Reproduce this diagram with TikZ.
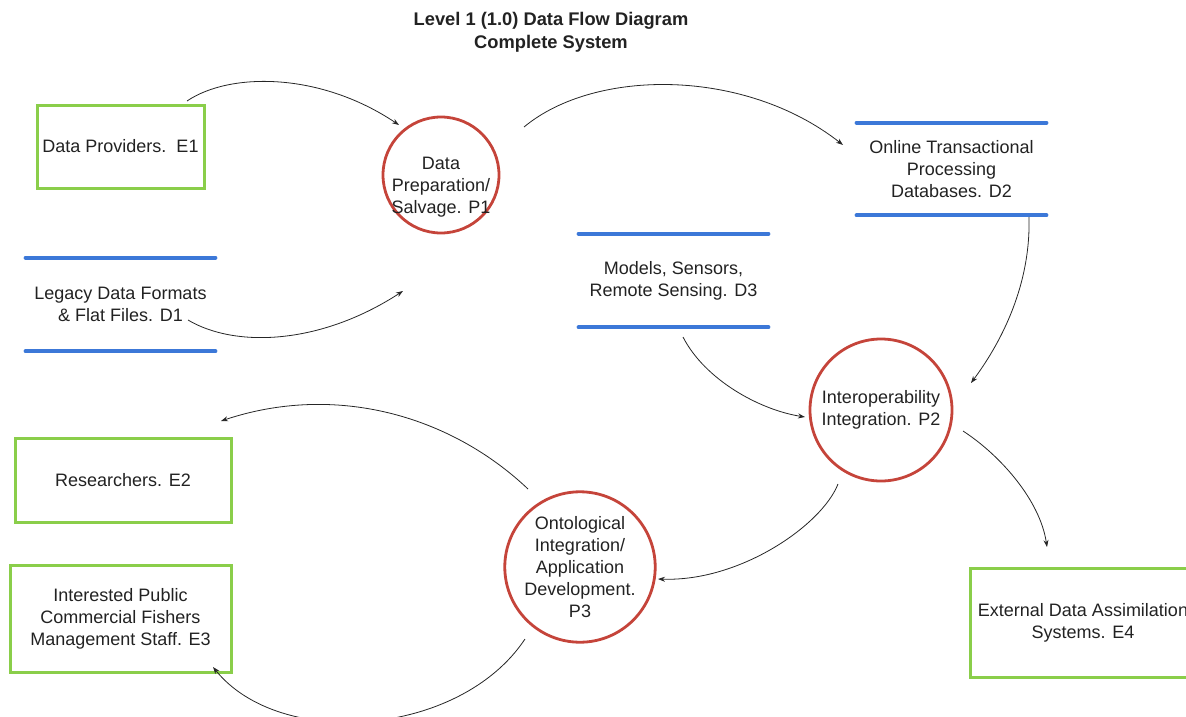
\documentclass[tikz,border=0pt]{standalone}
\usepackage{fontspec}
\setmainfont{Liberation Sans}
\usetikzlibrary{arrows.meta}
\definecolor{procred}{HTML}{C5443A}
\definecolor{extgreen}{HTML}{8ACE4A}
\definecolor{storeblue}{HTML}{3C78D8}
\definecolor{txt}{HTML}{222222}
\tikzset{
  lbl/.style={text=txt, font=\fontsize{18}{22}\selectfont, align=center},
  ext/.style={lbl, draw=extgreen, line width=3pt, rectangle, inner sep=0pt},
  proc/.style={lbl, draw=procred, line width=2.8pt, circle, inner sep=0pt},
  store/.style={lbl, inner sep=0pt},
  storeline/.style={draw=storeblue, line width=4.5pt, line cap=round},
  flow/.style={draw=black!85, line width=0.8pt, -{Stealth[length=7pt,width=5pt]}}
}
\begin{document}
\begin{tikzpicture}[x=1pt,y=-1pt]
\useasboundingbox (0,0) rectangle (1186,717);

% title
\node[text=txt, font=\bfseries\fontsize{18.3}{23}\selectfont, align=center] (title) at (551,32.5)
  {Level 1 (1.0) Data Flow Diagram\\Complete System};

% external entities
\node[ext, minimum width=167, minimum height=83] (e1) at (120.5,146.5) {Data Providers.~~E1};
\node[ext, minimum width=216, minimum height=84] (e2) at (123,480) {Researchers. E2};
\node[ext, minimum width=221, minimum height=107] (e3) at (120.5,618.5) {Interested Public\\Commercial Fishers\\Management Staff. E3};
\node[ext, minimum width=226, minimum height=109] (e4) at (1083,622.5) {External Data Assimilation\\Systems. E4};

% processes
\node[proc, minimum size=116,
  label={[lbl, yshift=-12pt]center:Data\\Preparation/\\Salvage. P1}] (p1) at (441,175) {};
\node[proc, minimum size=142] (p2) at (881,410) {Interoperability\\Integration. P2};
\node[proc, minimum size=142] (p3) at (580,567) {Ontological\\Integration/\\Application\\Development.\\P3};

% data stores
\node[store, minimum width=189, minimum height=93] (d1) at (120.5,304.5) {Legacy Data Formats\\\& Flat Files. D1};
\node[store, minimum width=189, minimum height=92] (d2) at (951.5,169) {Online Transactional\\Processing\\Databases. D2};
\node[store, minimum width=189, minimum height=93] (d3) at (673.5,280.5) {Models, Sensors,\\Remote Sensing. D3};
\foreach \d in {d1,d2,d3}{
  \draw[storeline] (\d.north west) -- (\d.north east);
  \draw[storeline] (\d.south west) -- (\d.south east);
}

% connector end points
\coordinate (e1o) at (187,101);   \coordinate (p1i1) at (399,125);
\coordinate (d1o) at (188,320);   \coordinate (p1i2) at (403,291);
\coordinate (p1o) at (524,127);   \coordinate (d2i) at (843,145);
\coordinate (d2o) at (1029,217);  \coordinate (p2i1) at (971,383);
\coordinate (d3o) at (683,337);   \coordinate (p2i2) at (805,417);
\coordinate (p2o1) at (963,431);  \coordinate (e4i) at (1047,547);
\coordinate (p2o2) at (838,484);  \coordinate (p3i) at (658,579);
\coordinate (p3o1) at (528,489);  \coordinate (e2i) at (221,421);
\coordinate (p3o2) at (525,639);  \coordinate (e3i) at (213,667);

% flows
\draw[flow] (e1o) .. controls (230,72) and (320,72) .. (p1i1);
\draw[flow] (d1o) .. controls (235,348) and (320,345) .. (p1i2);
\draw[flow] (p1o) .. controls (595,68) and (745,68) .. (d2i);
\draw[flow] (d2o) .. controls (1031,290) and (997,348) .. (p2i1);
\draw[flow] (d3o) .. controls (705,380) and (760,410) .. (p2i2);
\draw[flow] (p2o1) .. controls (1000,455) and (1040,500) .. (e4i);
\draw[flow] (p2o2) .. controls (822,525) and (740,582) .. (p3i);
\draw[flow] (p3o1) .. controls (450,415) and (335,383) .. (e2i);
\draw[flow] (p3o2) .. controls (460,737) and (280,750) .. (e3i);
\end{tikzpicture}
\end{document}
